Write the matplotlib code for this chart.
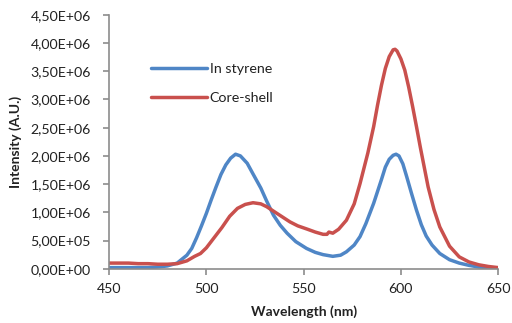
import matplotlib
matplotlib.use("Agg")
import matplotlib.pyplot as plt
from matplotlib.ticker import FuncFormatter, MultipleLocator

plt.rcParams['font.family'] = ['Lato', 'DejaVu Sans']

# Emission spectra, intensity in units of 1e6 counts
wl_styrene = [450, 460, 470, 475, 480, 485, 490, 492.5, 495, 497.5, 500, 502.5, 505,
              507.5, 510, 512.5, 515, 517.5, 521, 524, 528, 531, 534.5, 538, 541.5,
              546, 551.5, 556, 560, 565, 569, 572, 576, 579, 582, 586, 588, 590, 592,
              594, 596, 597.5, 599, 601, 603, 605.5, 608, 610.5, 613, 616, 620, 625,
              630, 635, 640, 645, 650]
in_styrene = [0.02, 0.02, 0.02, 0.03, 0.05, 0.10, 0.24, 0.36, 0.55, 0.76, 0.98, 1.22,
              1.45, 1.67, 1.84, 1.96, 2.03, 2.00, 1.87, 1.68, 1.43, 1.20, 0.95, 0.77,
              0.63, 0.48, 0.36, 0.29, 0.25, 0.22, 0.24, 0.30, 0.42, 0.57, 0.80, 1.16,
              1.37, 1.58, 1.80, 1.94, 2.01, 2.03, 2.00, 1.86, 1.63, 1.33, 1.04, 0.78,
              0.58, 0.42, 0.27, 0.16, 0.10, 0.06, 0.03, 0.02, 0.01]

wl_core = [450, 455, 460, 465, 470, 475, 480, 485, 490, 494, 497, 500, 504, 508, 512,
           516, 520, 524, 528, 531, 535, 539, 543, 547, 552, 556, 560, 562, 563, 565,
           568, 572, 576, 579, 583, 586, 588, 590, 592, 594, 596, 597, 598, 600, 602,
           604, 606, 608, 610, 612, 614, 617, 620, 625, 630, 635, 640, 645, 650]
core_shell = [0.10, 0.10, 0.10, 0.09, 0.09, 0.08, 0.08, 0.09, 0.14, 0.22, 0.27, 0.37,
              0.55, 0.73, 0.93, 1.07, 1.14, 1.17, 1.15, 1.10, 1.01, 0.92, 0.83, 0.76,
              0.70, 0.65, 0.61, 0.61, 0.65, 0.63, 0.70, 0.86, 1.15, 1.51, 2.05, 2.52,
              2.90, 3.25, 3.55, 3.76, 3.88, 3.89, 3.86, 3.72, 3.52, 3.22, 2.88, 2.52,
              2.15, 1.80, 1.45, 1.05, 0.74, 0.40, 0.21, 0.12, 0.07, 0.04, 0.02]

scale = 1e6
series_names = ["In styrene", "Core-shell"]
colors = ["#4F86C6", "#C9504D"]

fig = plt.figure(figsize=(5.12, 3.23), dpi=100)
ax = fig.add_axes([0.213, 0.168, 0.76, 0.786])

ax.plot(wl_styrene, [v * scale for v in in_styrene], color=colors[0], lw=2.5,
        solid_capstyle='round', solid_joinstyle='round', label=series_names[0])
ax.plot(wl_core, [v * scale for v in core_shell], color=colors[1], lw=2.5,
        solid_capstyle='round', solid_joinstyle='round', label=series_names[1])

ax.set_xlim(450, 650)
ax.set_ylim(0, 4.5e6)
ax.xaxis.set_major_locator(MultipleLocator(50))
ax.yaxis.set_major_locator(MultipleLocator(0.5e6))


def sci_comma(v, pos):
    return ("%.2E" % v).replace(".", ",")


ax.yaxis.set_major_formatter(FuncFormatter(sci_comma))

for side in ("top", "right"):
    ax.spines[side].set_visible(False)
for side in ("left", "bottom"):
    ax.spines[side].set_color("#8C8C8C")
    ax.spines[side].set_linewidth(1.2)

ax.tick_params(axis="both", colors="#8C8C8C", length=4, width=1.2, direction="out",
               labelcolor="#222222", labelsize=10.2)
ax.tick_params(axis="y", pad=9)
ax.tick_params(axis="x", pad=6)

ax.set_xlabel("Wavelength (nm)", fontsize=10, fontweight="bold", color="#222222", labelpad=8)
ax.set_ylabel("Intensity (A.U.)", fontsize=10, fontweight="bold", color="#222222", labelpad=6)

leg = ax.legend(loc="upper left", bbox_to_anchor=(0.108, 0.811), frameon=False,
                fontsize=10.3, handlelength=3.9, handletextpad=0.2, labelspacing=1.22,
                borderaxespad=0, borderpad=0)
for t in leg.get_texts():
    t.set_color("#222222")

fig.savefig("out.png", dpi=100)
